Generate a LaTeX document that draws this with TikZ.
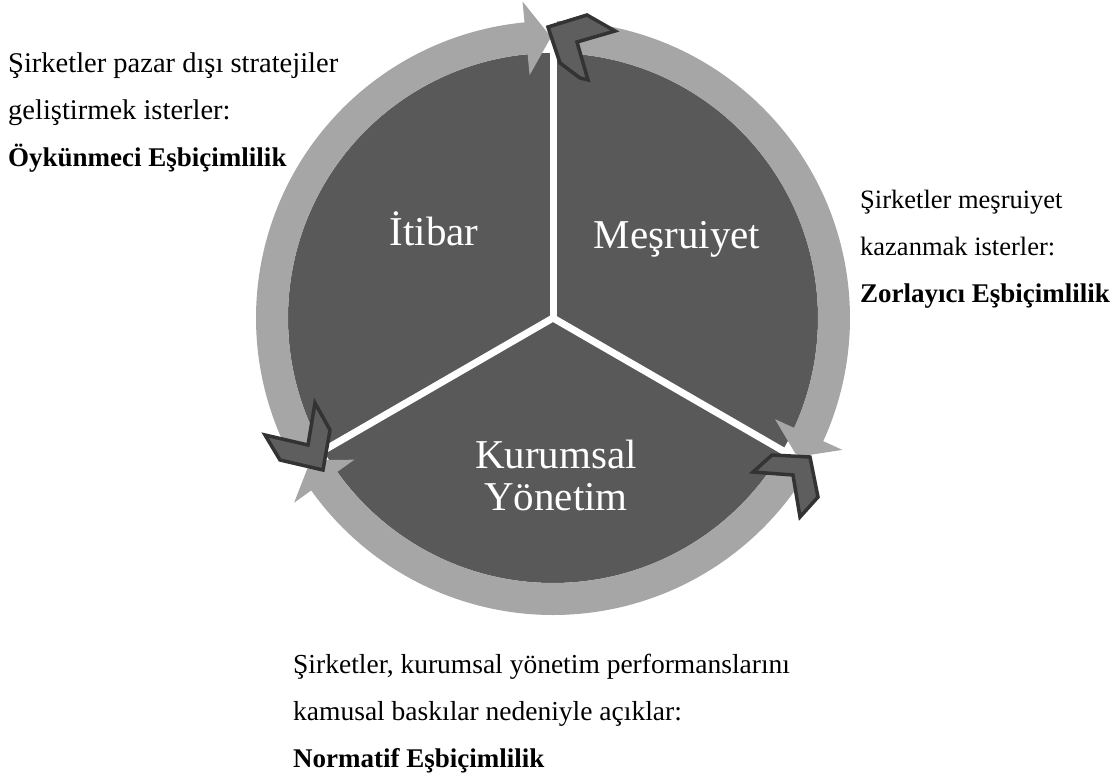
\documentclass[tikz,border=0pt]{standalone}
\usepackage{fontspec}
\setmainfont{Liberation Serif}
\definecolor{diskgray}{HTML}{595959}
\definecolor{ringgray}{HTML}{A6A6A6}
\definecolor{chevfill}{HTML}{5E5E5E}
\definecolor{chevline}{HTML}{333333}
\begin{document}
\begin{tikzpicture}[x=1pt,y=-1pt,
  sidetext/.style={anchor=base west, inner sep=0pt, font=\fontsize{28}{34}\selectfont},
  innertext/.style={anchor=base, inner sep=0pt, text=white, font=\fontsize{41}{48}\selectfont},
  chevron/.style={fill=chevfill, draw=chevline, line width=3.5pt, line join=miter},
  ringarrow/.style={fill=ringgray},
  divider/.style={draw=white, line width=7pt}]
\useasboundingbox (0,0) rectangle (1117,776);
\coordinate (C) at (553,318);
% disk, ring arrows, dividers
\begin{scope}[shift={(C)}, yscale=-1]
  \fill[diskgray] (0,0) circle[radius=265];
  \foreach \r in {0,-120,-240}{
    \fill[ringarrow, rotate=\r] (90:297) arc[start angle=90, end angle=-24.5, radius=297]
      -- (-24.5:318) -- (-29.6:281) -- (-24.5:244) -- (-24.5:265)
      arc[start angle=-24.5, end angle=90, radius=265] -- cycle;
  }
  \coordinate (d1) at (90:322);
  \coordinate (d2) at (-30:322);
  \coordinate (d3) at (210:322);
  \coordinate (o) at (0,0);
  \draw[divider] (o) -- (d1);
  \draw[divider] (o) -- (d2);
  \draw[divider] (o) -- (d3);
\end{scope}
% chevrons
\draw[chevron] (548,27) -- (587,15) -- (615,31) -- (577,42) -- (588,80) -- (580,78) -- (560,63) -- cycle;
\draw[chevron] (753,472) -- (772,455) -- (810,457) -- (818,497) -- (800,517) -- (793,475) -- cycle;
\draw[chevron] (265,435) -- (280,460) -- (323,470) -- (330,430) -- (315,403) -- (308,445) -- cycle;
% inner labels
\node[innertext] (itibar) at (434,245) {İtibar};
\node[innertext] (mesru) at (677,248) {Meşruiyet};
\node[innertext] (kurum1) at (556,468) {Kurumsal};
\node[innertext] (kurum2) at (556,510) {Yönetim};
% side texts
\node[sidetext, font=\fontsize{28.5}{34}\selectfont] (l1) at (8,73) {Şirketler pazar dışı stratejiler};
\node[sidetext, font=\fontsize{28.5}{34}\selectfont] (l2) at (8,120) {geliştirmek isterler:};
\node[sidetext, font=\fontsize{27}{34}\selectfont\bfseries] (l3) at (8,166) {Öykünmeci Eşbiçimlilik};
\node[sidetext, font=\fontsize{26.5}{34}\selectfont] (r1) at (860,208) {Şirketler meşruiyet};
\node[sidetext, font=\fontsize{26.5}{34}\selectfont] (r2) at (860,255) {kazanmak isterler:};
\node[sidetext, font=\fontsize{27}{34}\selectfont\bfseries] (r3) at (860,302) {Zorlayıcı Eşbiçimlilik};
\node[sidetext, font=\fontsize{27.5}{34}\selectfont] (b1) at (293,673) {Şirketler, kurumsal yönetim performanslarını};
\node[sidetext, font=\fontsize{27.5}{34}\selectfont] (b2) at (293,720) {kamusal baskılar nedeniyle açıklar:};
\node[sidetext, font=\fontsize{27}{34}\selectfont\bfseries] (b3) at (293,767) {Normatif Eşbiçimlilik};
\end{tikzpicture}
\end{document}
